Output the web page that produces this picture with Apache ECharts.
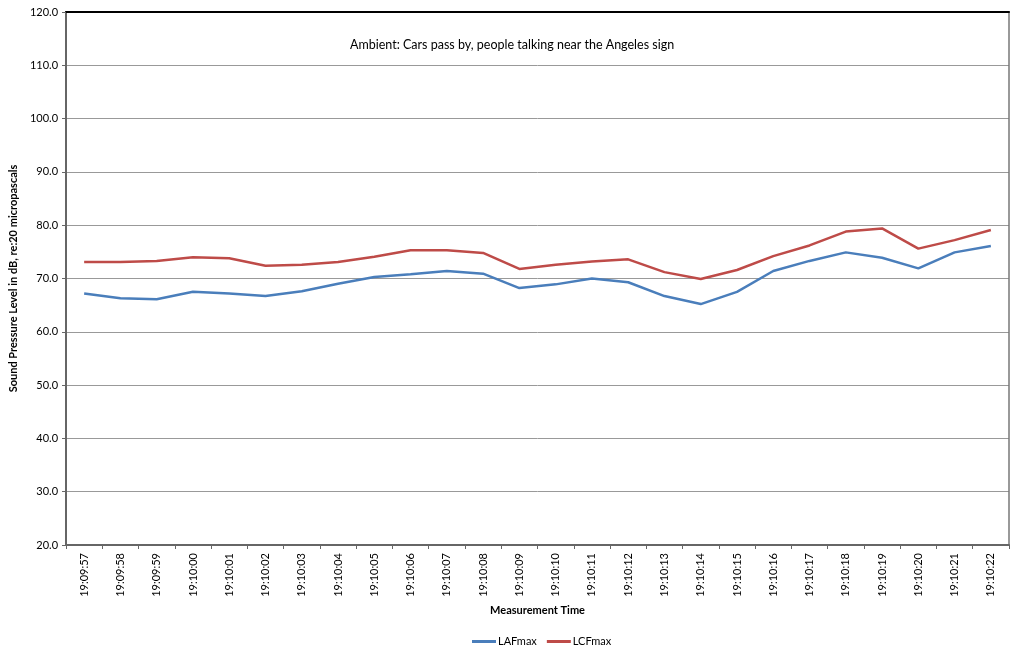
<!DOCTYPE html>
<html><head><meta charset="utf-8">
<script src="https://cdn.jsdelivr.net/npm/echarts@6/dist/echarts.min.js"></script>
<style>html,body{margin:0;padding:0;background:#fff}#c{width:1010px;height:646px}</style>
</head><body><div id="c"></div>
<script>
const categories = ["19:09:57","19:09:58","19:09:59","19:10:00","19:10:01","19:10:02","19:10:03","19:10:04","19:10:05","19:10:06","19:10:07","19:10:08","19:10:09","19:10:10","19:10:11","19:10:12","19:10:13","19:10:14","19:10:15","19:10:16","19:10:17","19:10:18","19:10:19","19:10:20","19:10:21","19:10:22"];
const lafmax = [67.2,66.3,66.1,67.5,67.2,66.7,67.6,69.0,70.3,70.8,71.4,70.9,68.2,68.9,70.0,69.3,66.7,65.2,67.5,71.4,73.3,74.9,73.9,71.9,74.9,76.1];
const lcfmax = [73.1,73.1,73.3,74.0,73.8,72.4,72.6,73.1,74.1,75.3,75.3,74.8,71.8,72.6,73.2,73.6,71.2,69.9,71.6,74.2,76.2,78.8,79.4,75.6,77.2,79.1];
const FONT = 'Lato, Carlito, sans-serif';
const chart = echarts.init(document.getElementById('c'), null, {renderer:'canvas'});
chart.setOption({
  animation:false,
  backgroundColor:'#fff',
  title:{text:'Ambient: Cars pass by, people talking near the Angeles sign', left:345, top:33,
    textStyle:{fontFamily:FONT, fontSize:12.5, fontWeight:'normal', color:'#000'}},
  grid:{left:64, right:1, top:12, bottom:101, show:false},
  legend:{top:631, left:467, itemWidth:24, itemHeight:3, itemGap:10, icon:'rect',
    textStyle:{fontFamily:FONT, fontSize:11, color:'#000', padding:[0,0,0,-3]},
    data:['LAFmax','LCFmax']},
  xAxis:[{type:'category', data:categories, boundaryGap:true,
    name:'Measurement Time', nameLocation:'middle', nameGap:57,
    nameTextStyle:{fontFamily:FONT, fontSize:11, fontWeight:'bold', color:'#000'},
    axisLine:{lineStyle:{color:'#666', width:2}},
    axisTick:{show:true, length:4, lineStyle:{color:'#666'}},
    axisLabel:{rotate:90, interval:0, fontFamily:FONT, fontSize:11, color:'#000', margin:8}},
    {type:'category', data:categories, position:'top', boundaryGap:true,
    axisLine:{show:true, lineStyle:{color:'#000', width:2}}, axisTick:{show:false}, axisLabel:{show:false}}],
  yAxis:[{type:'value', min:20, max:120, interval:10,
    name:'Sound Pressure Level in dB, re:20 micropascals', nameLocation:'middle', nameGap:41, nameRotate:90,
    nameTextStyle:{fontFamily:FONT, fontSize:11, fontWeight:'bold', color:'#000'},
    axisLine:{show:true, lineStyle:{color:'#666', width:2}},
    axisTick:{show:true, length:4, lineStyle:{color:'#666'}},
    splitLine:{lineStyle:{color:'#999', width:1}},
    axisLabel:{formatter:v=>v.toFixed(1), fontFamily:FONT, fontSize:11, color:'#000', margin:8}},
    {type:'value', min:20, max:120, interval:10, position:'right',
    axisLine:{show:true, lineStyle:{color:'#777', width:1.5}}, axisTick:{show:false}, axisLabel:{show:false}, splitLine:{show:false}}],
  series:[
    {name:'LAFmax', type:'line', data:lafmax, showSymbol:false, symbol:'none', lineStyle:{color:'#4A7EBB', width:2.5}, itemStyle:{color:'#4A7EBB'}},
    {name:'LCFmax', type:'line', data:lcfmax, showSymbol:false, symbol:'none', lineStyle:{color:'#BE4B48', width:2.5}, itemStyle:{color:'#BE4B48'}}
  ]
});
</script></body></html>
